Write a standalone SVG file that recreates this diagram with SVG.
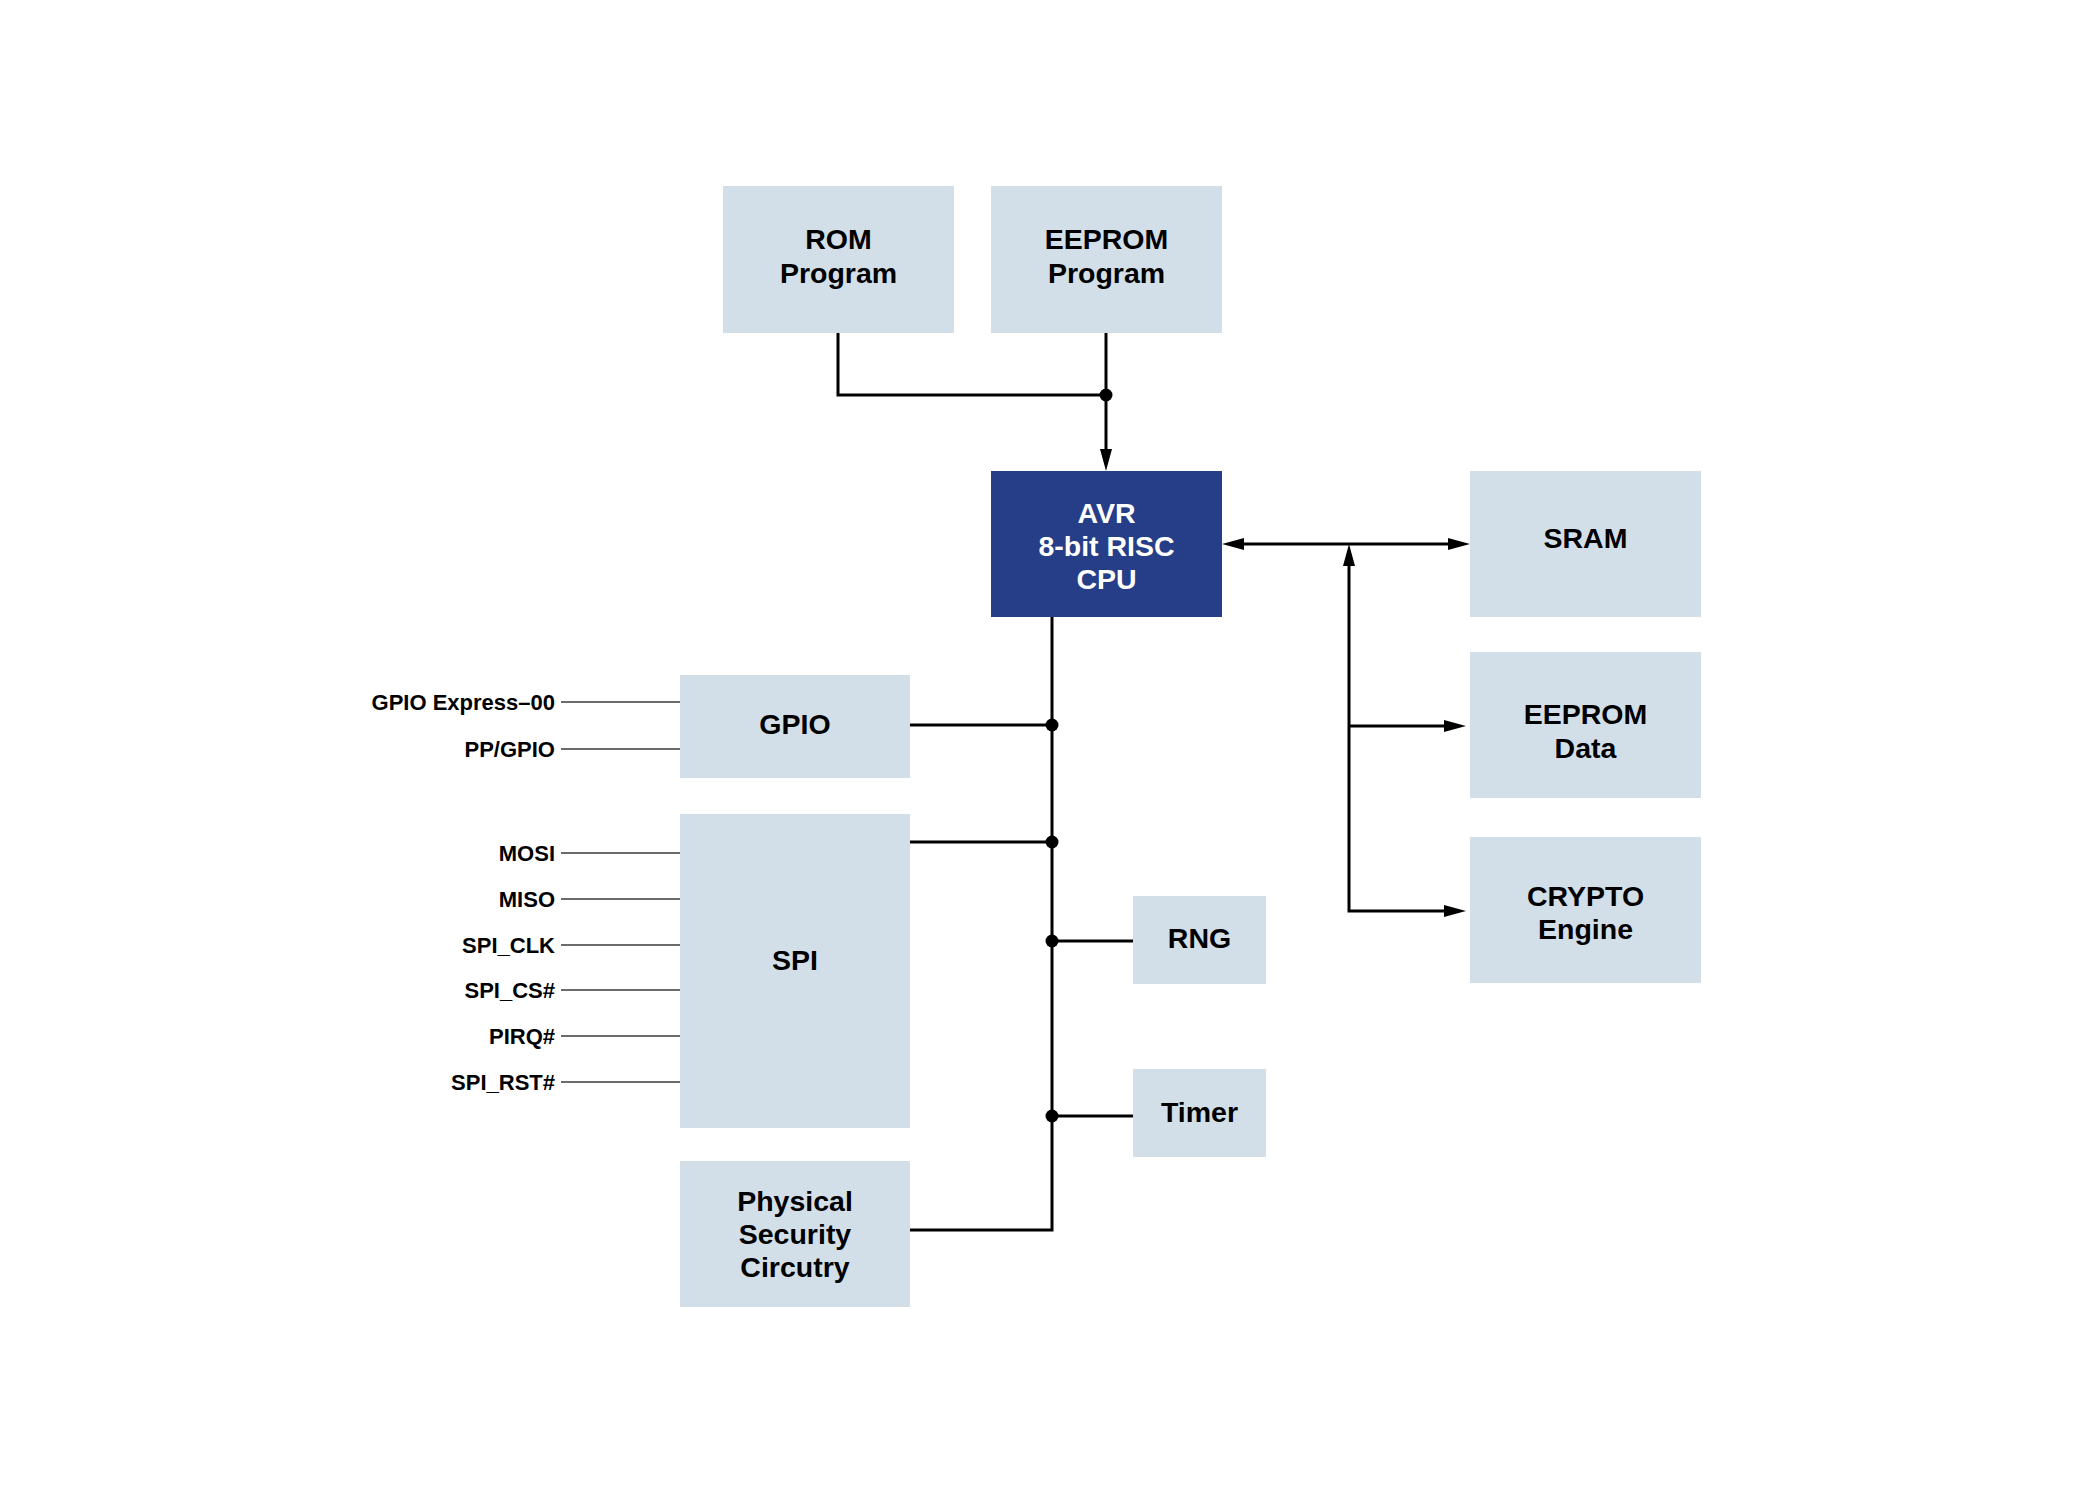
<svg xmlns="http://www.w3.org/2000/svg" width="2100" height="1500" viewBox="0 0 2100 1500">
<style>
  .box { fill: #D3DFE8; }
  .cpu { fill: #263D87; }
  .t { font-family: "Liberation Sans", Arial, sans-serif; font-weight: 700; font-size: 28.5px; fill: #000; text-anchor: middle; }
  .tw { fill: #fff; }
  .pin { font-family: "Liberation Sans", Arial, sans-serif; font-weight: 700; font-size: 22px; fill: #000; text-anchor: end; }
  .pl { stroke: #3a3a3a; stroke-width: 1.5; fill: none; }
  .c { stroke: #000; stroke-width: 3; fill: none; }
  .dot { fill: #000; }
</style>
<defs>
  <marker id="arr" markerUnits="userSpaceOnUse" markerWidth="22" markerHeight="12" refX="0" refY="6" orient="auto-start-reverse">
    <path d="M0,0 L22,6 L0,12 z" fill="#000"/>
  </marker>
</defs>
<rect width="2100" height="1500" fill="#fff"/>

<g id="rom">
  <rect class="box" x="723" y="186" width="231" height="147"/>
  <text class="t" x="838.5" y="249">ROM<tspan x="838.5" dy="34">Program</tspan></text>
</g>
<g id="eeprom-program">
  <rect class="box" x="991" y="186" width="231" height="147"/>
  <text class="t" x="1106.5" y="249">EEPROM<tspan x="1106.5" dy="34">Program</tspan></text>
</g>
<g id="cpu">
  <rect class="cpu" x="991" y="471" width="231" height="146"/>
  <text class="t tw" x="1106.5" y="523">AVR<tspan x="1106.5" dy="33">8-bit RISC</tspan><tspan x="1106.5" dy="33">CPU</tspan></text>
</g>
<g id="sram">
  <rect class="box" x="1470" y="471" width="231" height="146"/>
  <text class="t" x="1585.5" y="548">SRAM</text>
</g>
<g id="eeprom-data">
  <rect class="box" x="1470" y="652" width="231" height="146"/>
  <text class="t" x="1585.5" y="724">EEPROM<tspan x="1585.5" dy="34">Data</tspan></text>
</g>
<g id="crypto">
  <rect class="box" x="1470" y="837" width="231" height="146"/>
  <text class="t" x="1585.5" y="906">CRYPTO<tspan x="1585.5" dy="33">Engine</tspan></text>
</g>
<g id="gpio">
  <rect class="box" x="680" y="675" width="230" height="103"/>
  <text class="t" x="795" y="734">GPIO</text>
  <line class="pl" x1="561" y1="702" x2="680" y2="702"/>
  <line class="pl" x1="561" y1="749" x2="680" y2="749"/>
  <text class="pin" x="555" y="710">GPIO Express–00</text>
  <text class="pin" x="555" y="757">PP/GPIO</text>
</g>
<g id="spi">
  <rect class="box" x="680" y="814" width="230" height="314"/>
  <text class="t" x="795" y="970">SPI</text>
  <line class="pl" x1="561" y1="853" x2="680" y2="853"/>
  <line class="pl" x1="561" y1="899" x2="680" y2="899"/>
  <line class="pl" x1="561" y1="945" x2="680" y2="945"/>
  <line class="pl" x1="561" y1="990" x2="680" y2="990"/>
  <line class="pl" x1="561" y1="1036" x2="680" y2="1036"/>
  <line class="pl" x1="561" y1="1082" x2="680" y2="1082"/>
  <text class="pin" x="555" y="861">MOSI</text>
  <text class="pin" x="555" y="907">MISO</text>
  <text class="pin" x="555" y="953">SPI_CLK</text>
  <text class="pin" x="555" y="998">SPI_CS#</text>
  <text class="pin" x="555" y="1044">PIRQ#</text>
  <text class="pin" x="555" y="1090">SPI_RST#</text>
</g>
<g id="physical">
  <rect class="box" x="680" y="1161" width="230" height="146"/>
  <text class="t" x="795" y="1211">Physical<tspan x="795" dy="33">Security</tspan><tspan x="795" dy="33">Circutry</tspan></text>
</g>
<g id="rng">
  <rect class="box" x="1133" y="896" width="133" height="88"/>
  <text class="t" x="1199.5" y="948">RNG</text>
</g>
<g id="timer">
  <rect class="box" x="1133" y="1069" width="133" height="88"/>
  <text class="t" x="1199.5" y="1122">Timer</text>
</g>

<g id="connectors">
  <path class="c" d="M838,333 V395 H1106"/>
  <path class="c" d="M1106,333 V449" marker-end="url(#arr)"/>
  <circle class="dot" cx="1106" cy="395" r="6.5"/>
  <path class="c" d="M1052,617 V1230 H910"/>
  <path class="c" d="M910,725 H1052"/>
  <path class="c" d="M910,842 H1052"/>
  <path class="c" d="M1052,941 H1133"/>
  <path class="c" d="M1052,1116 H1133"/>
  <circle class="dot" cx="1052" cy="725" r="6.5"/>
  <circle class="dot" cx="1052" cy="842" r="6.5"/>
  <circle class="dot" cx="1052" cy="941" r="6.5"/>
  <circle class="dot" cx="1052" cy="1116" r="6.5"/>
  <path class="c" d="M1244,544 H1448" marker-start="url(#arr)" marker-end="url(#arr)"/>
  <path class="c" d="M1349,566 V911 H1444" marker-start="url(#arr)" marker-end="url(#arr)"/>
  <path class="c" d="M1349,726 H1444" marker-end="url(#arr)"/>
</g>
</svg>
